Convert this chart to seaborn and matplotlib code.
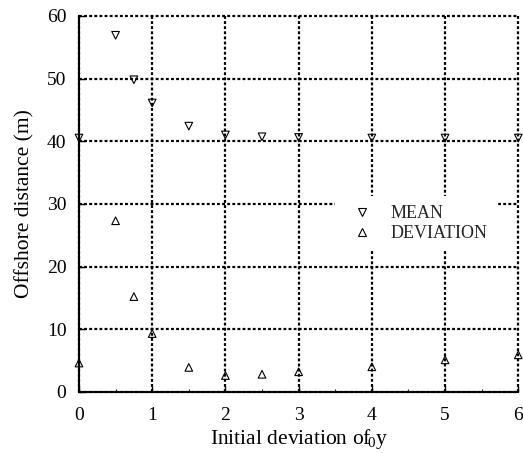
import matplotlib
matplotlib.use("Agg")
import matplotlib.pyplot as plt
import seaborn as sns
import pandas as pd
from matplotlib.ticker import MultipleLocator

x_vals = [0, 0.5, 0.75, 1, 1.5, 2, 2.5, 3, 4, 5, 6]
mean_vals = [40.5, 56.9, 49.8, 46.1, 42.4, 41.0, 40.7, 40.6, 40.5, 40.5, 40.5]
dev_vals = [4.6, 27.3, 15.2, 9.3, 3.9, 2.6, 2.8, 3.2, 4.0, 5.1, 5.9]
series_names = ["MEAN", "DEVIATION"]
x_ticks = [0, 1, 2, 3, 4, 5, 6]
y_ticks = [0, 10, 20, 30, 40, 50, 60]

sns.set_theme(style="white")
plt.rcParams["font.family"] = ["Liberation Serif", "DejaVu Serif"]
plt.rcParams["mathtext.fontset"] = "custom"
plt.rcParams["mathtext.rm"] = "Liberation Serif"
plt.rcParams["mathtext.it"] = "Liberation Serif"

df = pd.DataFrame({
    "x": x_vals * 2,
    "y": mean_vals + dev_vals,
    "series": [series_names[0]] * len(x_vals) + [series_names[1]] * len(x_vals),
})

fig = plt.figure(figsize=(5.23, 4.53), dpi=100)
ax = fig.add_axes([0.151, 0.135, 0.840, 0.830])

sns.scatterplot(data=df, x="x", y="y", style="series",
                markers={"MEAN": "v", "DEVIATION": "^"},
                style_order=series_names, ax=ax, s=30,
                facecolor="none", edgecolor="black", linewidth=0.8,
                color="black", zorder=5, clip_on=False)

ax.set_xlim(0, 6)
ax.set_ylim(0, 60)
ax.set_xticks(x_ticks)
ax.set_yticks(y_ticks)
ax.xaxis.set_minor_locator(MultipleLocator(0.5))
ax.grid(True, which="major", color="black", linestyle=(0, (1.3, 1.0)), linewidth=1.6)
for gl in ax.get_xgridlines() + ax.get_ygridlines():
    gl.set_clip_on(False)
ax.set_axisbelow(True)
for s in ["top", "right"]:
    ax.spines[s].set_visible(False)
for s in ["left", "bottom"]:
    ax.spines[s].set_color("black")
    ax.spines[s].set_linewidth(1.5)
    ax.spines[s].set_zorder(3)
ax.tick_params(axis="both", which="major", direction="in", length=4, width=1,
               colors="black", labelsize=14, pad=9)
ax.tick_params(axis="x", which="major", pad=11)
ax.tick_params(axis="x", which="minor", direction="in", length=2.5, width=0.8,
               bottom=True)
ax.tick_params(left=True, bottom=True)

ax.set_xlabel("Initial deviation of$\\!_0$y", fontsize=15.5, labelpad=2, color="black")
ax.set_ylabel("Offshore distance (m)", fontsize=15.5, labelpad=9, color="black")

leg = ax.legend(loc="center left", bbox_to_anchor=(0.582, 0.447), frameon=True,
                fontsize=13, handletextpad=0.6, borderpad=0.5, handlelength=2.0,
                markerscale=1.0, labelspacing=0.15, borderaxespad=0)
leg.get_frame().set_facecolor("white")
leg.get_frame().set_edgecolor("none")
leg.get_frame().set_alpha(1)
leg.set_zorder(10)
leg.set_title(None)

fig.savefig("out.png", dpi=100, facecolor="white")
